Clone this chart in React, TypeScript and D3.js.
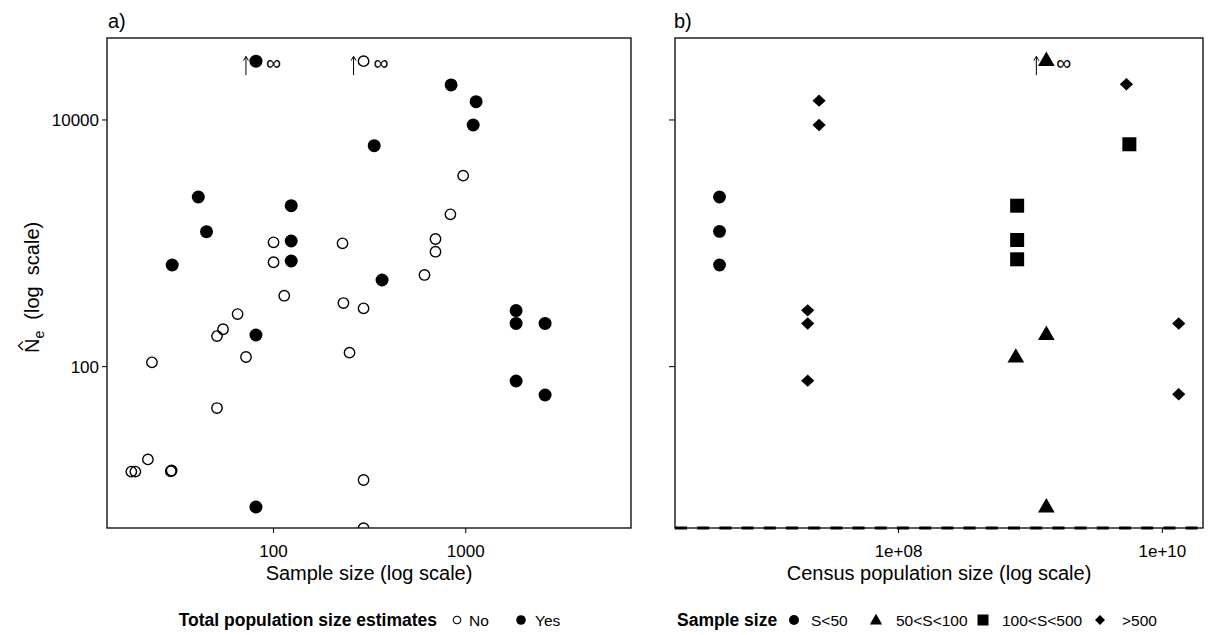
import React from 'react';
import * as d3 from 'd3';

// ---------- DATA ----------
// Panel a) : sample size vs. Ne estimate, split by whether a total population size estimate exists
const noSampleSize = [294, 100, 100, 113.7, 65, 54.6, 50.8, 71.9, 23.3, 50.8, 22.2, 18.2, 19.1, 29.2, 29.5, 832, 969.5, 228.5, 696, 696, 610, 231, 294, 248.5, 294, 294];
const noNe = [Infinity, 1019, 702, 376, 267, 201, 177, 119.8, 108.4, 46.2, 17.7, 14.1, 14.1, 14.2, 14.4, 1719, 3535, 1000, 1084, 855, 554, 328, 297, 129.8, 12.05, 4.9];
const yesSampleSize = [81, 40.6, 123.6, 44.8, 123.6, 123.6, 29.7, 81, 81, 839, 1132, 1093, 334, 367, 1828, 1828, 2587, 1828, 2587];
const yesNe = [Infinity, 2375, 2018, 1242, 1044, 719, 667, 180.6, 7.28, 19230, 14070, 9110, 6190, 504, 285, 224, 224, 76.5, 58.9];

// Panel b) : census size vs. Ne estimate, by sample-size class
const censusS50 = [4.4e6, 4.4e6, 4.4e6];
const neS50 = [2375, 1250, 667];
const censusS100 = [1.32e9, 1.32e9, 7.75e8, 1.32e9];
const neS100 = [Infinity, 180, 118, 7.2];
const censusS500 = [7.93e8, 7.93e8, 7.93e8, 5.62e9];
const neS500 = [2018, 1064, 742, 6355];
const censusBig = [2.5e7, 2.5e7, 2.05e7, 2.05e7, 2.05e7, 5.34e9, 1.33e10, 1.33e10];
const neBig = [14340, 9110, 286, 224, 77, 19480, 224, 59.7];

const INF_NE = 30000; // where an infinite estimate is drawn
const yTicks = [100, 10000];
const yTickLabels = ['100', '10000'];
const xTicksA = [100, 1000];
const xTickLabelsA = ['100', '1000'];
const xTicksB = [1e8, 1e10];
const xTickLabelsB = ['1e+08', '1e+10'];

const legendATitle = 'Total population size estimates';
const legendALabels = ['No', 'Yes'];
const legendBTitle = 'Sample size';
const legendBLabels = ['S<50', '50<S<100', '100<S<500', '>500'];

// ---------- LAYOUT ----------
const W = 1213;
const H = 635;
const TOP = 38;
const BOTTOM = 528;
const A_LEFT = 107, A_RIGHT = 631;
const B_LEFT = 675, B_RIGHT = 1203;
const FONT = '"Liberation Sans", Arial, Helvetica, sans-serif';

const yScale = d3.scaleLog().domain([4.92, 46200]).range([BOTTOM, TOP]);
const xA = d3.scaleLog().domain([13.6, 7240]).range([A_LEFT, A_RIGHT]);
const xB = d3.scaleLog().domain([2.023e6, 2.032e10]).range([B_LEFT, B_RIGHT]);

const yv = (v: number) => yScale(isFinite(v) ? v : INF_NE);

// symbol paths
const circlePath = (x: number, y: number, r: number) => {
  const p = d3.path();
  p.moveTo(x + r, y);
  p.arc(x, y, r, 0, Math.PI * 2);
  p.closePath();
  return p.toString();
};
const triPath = (x: number, y: number, r0: number) => {
  const r = 1.555 * r0, xc = 1.347 * r0, yc = 0.778 * r0;
  return `M${x},${y - r}L${x + xc},${y + yc}L${x - xc},${y + yc}Z`;
};
const squarePath = (x: number, y: number, h: number) =>
  `M${x - h},${y - h}H${x + h}V${y + h}H${x - h}Z`;
const diamondPath = (x: number, y: number, hw: number, hh: number) =>
  `M${x},${y - hh}L${x + hw},${y}L${x},${y + hh}L${x - hw},${y}Z`;

const InfMark = ({ px, py }: { px: number; py: number }) => (
  <g>
    <path d={`M${px - 10},${py + 14}V${py - 4.5}M${px - 12.5},${py - 0.5}L${px - 10},${py - 4.8}L${px - 7.5},${py - 0.5}`} stroke="#000" strokeWidth={1} fill="none" />
    <text x={px + 17.5} y={py + 9} fontSize={21} textAnchor="middle" fontFamily={FONT}>∞</text>
  </g>
);

const Frame = ({ left, right }: { left: number; right: number }) => (
  <rect x={left} y={TOP} width={right - left} height={BOTTOM - TOP} fill="none" stroke="#000" strokeWidth={1.3} />
);

export default function App() {
  const tickLen = 5;
  return (
    <svg width={W} height={H} style={{ position: 'absolute', left: 0, top: 0, background: '#fff' }} fontFamily={FONT}>
      <defs>
        <clipPath id="clipA"><rect x={A_LEFT} y={TOP} width={A_RIGHT - A_LEFT} height={BOTTOM - TOP} /></clipPath>
        <clipPath id="clipB"><rect x={B_LEFT} y={TOP} width={B_RIGHT - B_LEFT} height={BOTTOM - TOP} /></clipPath>
      </defs>
      <rect x={0} y={0} width={W} height={H} fill="#fff" />

      {/* ---------- Panel a ---------- */}
      <text x={108} y={28} fontSize={20}>a)</text>
      <Frame left={A_LEFT} right={A_RIGHT} />
      {yTicks.map((t, i) => (
        <g key={'ya' + i}>
          <line x1={A_LEFT - tickLen} x2={A_LEFT} y1={yScale(t)} y2={yScale(t)} stroke="#000" />
          <text x={A_LEFT - 8} y={yScale(t) + 6} fontSize={17} textAnchor="end">{yTickLabels[i]}</text>
        </g>
      ))}
      {xTicksA.map((t, i) => (
        <g key={'xa' + i}>
          <line x1={xA(t)} x2={xA(t)} y1={BOTTOM} y2={BOTTOM + tickLen} stroke="#000" />
          <text x={xA(t)} y={556.5} fontSize={17} textAnchor="middle">{xTickLabelsA[i]}</text>
        </g>
      ))}
      <text x={(A_LEFT + A_RIGHT) / 2} y={579.5} fontSize={20} textAnchor="middle">Sample size (log scale)</text>
      <g transform={`translate(39,${(TOP + BOTTOM) / 2}) rotate(-90)`}>
        <text x={-70} y={0} fontSize={20} style={{ whiteSpace: 'pre' }}>
          N<tspan dy={5} fontSize={14}>e</tspan><tspan dy={-5}>{'  (log  scale)'}</tspan>
        </text>
        <path d="M-67,-16L-62.8,-20.5L-58.6,-16" stroke="#000" strokeWidth={1.2} fill="none" />
      </g>

      <g clipPath="url(#clipA)">
        {noSampleSize.map((s, i) => (
          <path key={'no' + i} d={circlePath(xA(s), yv(noNe[i]), 5.2)} fill="none" stroke="#000" strokeWidth={1.4} />
        ))}
        {yesSampleSize.map((s, i) => (
          <path key={'yes' + i} d={circlePath(xA(s), yv(yesNe[i]), 6.5)} fill="#000" />
        ))}
      </g>
      {noSampleSize.map((s, i) => !isFinite(noNe[i]) ? <InfMark key={'ina' + i} px={xA(s)} py={yv(noNe[i])} /> : null)}
      {yesSampleSize.map((s, i) => !isFinite(yesNe[i]) ? <InfMark key={'iya' + i} px={xA(s)} py={yv(yesNe[i])} /> : null)}

      {/* ---------- Panel b ---------- */}
      <text x={674} y={28} fontSize={20}>b)</text>
      <Frame left={B_LEFT} right={B_RIGHT} />
      {yTicks.map((t, i) => (
        <line key={'yb' + i} x1={B_LEFT - 6} x2={B_LEFT} y1={yScale(t)} y2={yScale(t)} stroke="#000" />
      ))}
      {xTicksB.map((t, i) => (
        <g key={'xb' + i}>
          <line x1={xB(t)} x2={xB(t)} y1={BOTTOM} y2={BOTTOM + tickLen} stroke="#000" />
          <text x={xB(t)} y={556.5} fontSize={17} textAnchor="middle">{xTickLabelsB[i]}</text>
        </g>
      ))}
      <text x={(B_LEFT + B_RIGHT) / 2} y={579.5} fontSize={20} textAnchor="middle">Census population size (log scale)</text>
      <line x1={B_LEFT} x2={B_RIGHT} y1={BOTTOM} y2={BOTTOM} stroke="#000" strokeWidth={3} strokeDasharray="12 10.2" />

      <g clipPath="url(#clipB)">
        {censusS50.map((c, i) => <path key={'c' + i} d={circlePath(xB(c), yv(neS50[i]), 6.4)} fill="#000" />)}
        {censusS100.map((c, i) => <path key={'t' + i} d={triPath(xB(c), yv(neS100[i]), 6.2)} fill="#000" />)}
        {censusS500.map((c, i) => <path key={'s' + i} d={squarePath(xB(c), yv(neS500[i]), 7)} fill="#000" />)}
        {censusBig.map((c, i) => <path key={'d' + i} d={diamondPath(xB(c), yv(neBig[i]), 6.6, 6.2)} fill="#000" />)}
      </g>
      {censusS100.map((c, i) => !isFinite(neS100[i]) ? <InfMark key={'itb' + i} px={xB(c)} py={yv(neS100[i])} /> : null)}

      {/* ---------- Legends ---------- */}
      <g fontSize={15.5}>
        <text x={437} y={626} fontSize={17.5} fontWeight="bold" textAnchor="end">{legendATitle}</text>
        <path d={circlePath(457, 620, 3.8)} fill="none" stroke="#000" strokeWidth={1.1} />
        <text x={469} y={626}>{legendALabels[0]}</text>
        <path d={circlePath(521, 620, 4.8)} fill="#000" />
        <text x={535} y={626}>{legendALabels[1]}</text>

        <text x={677} y={626} fontSize={17.5} fontWeight="bold">{legendBTitle}</text>
        <path d={circlePath(794, 620, 5)} fill="#000" />
        <text x={811} y={626}>{legendBLabels[0]}</text>
        <path d={triPath(876, 621, 4.6)} fill="#000" />
        <text x={896} y={626}>{legendBLabels[1]}</text>
        <path d={squarePath(983, 620, 5.5)} fill="#000" />
        <text x={1002} y={626}>{legendBLabels[2]}</text>
        <path d={diamondPath(1100, 620, 5, 5)} fill="#000" />
        <text x={1122} y={626}>{legendBLabels[3]}</text>
      </g>
    </svg>
  );
}
